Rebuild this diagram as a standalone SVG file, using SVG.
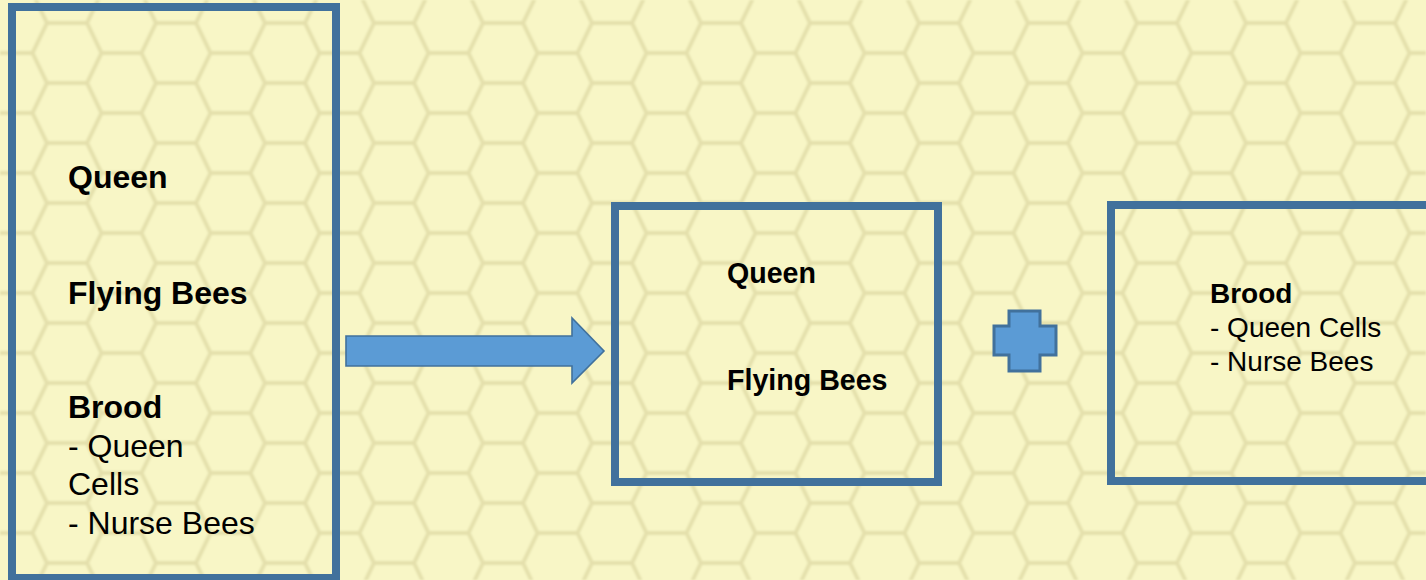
<svg xmlns="http://www.w3.org/2000/svg" width="1426" height="580" viewBox="0 0 1426 580">
  <defs>
    <!-- honeycomb tile: two hexagon columns, 109 x 60 -->
    <pattern id="honeycomb" patternUnits="userSpaceOnUse" x="67" y="23" width="109" height="60">
      <rect width="109" height="60" fill="#F8F6C6"/>
      <path d="M0,0 H20 L34.5,30 L20,60 H0 M109,0 H89 L74.5,30 L89,60 H109 M34.5,30 H74.5"
            fill="none" stroke="#E4E0AC" stroke-width="4" stroke-linejoin="round"/>
    </pattern>
    <filter id="soft" x="0" y="0" width="1" height="1">
      <feGaussianBlur stdDeviation="1.1"/>
    </filter>
    <style>
      .frame { fill: none; stroke: #41719C; stroke-width: 8; }
      .shape { fill: #5B9BD5; stroke: #41719C; stroke-linejoin: miter; }
      .t { font-family: "Liberation Sans", Arial, sans-serif; fill: #000000; }
      .b { font-weight: bold; }
      .big { font-size: 32px; }
      .mid { font-size: 28px; }
      .mid2 { font-size: 28.6px; }
    </style>
  </defs>

  <!-- background -->
  <rect width="1426" height="580" fill="#F8F6C6"/>
  <rect width="1426" height="580" fill="url(#honeycomb)" filter="url(#soft)"/>

  <!-- whole colony -->
  <g id="colony">
    <rect class="frame" x="12" y="7" width="324" height="571"/>
    <text class="t b big" x="68" y="188">Queen</text>
    <text class="t b big" x="68" y="304">Flying Bees</text>
    <text class="t b big" x="68" y="418">Brood</text>
    <text class="t big" x="68" y="456.5">- Queen</text>
    <text class="t big" x="68" y="495">Cells</text>
    <text class="t big" x="68" y="533.5">- Nurse Bees</text>
  </g>

  <!-- hive keeping the queen and flyers -->
  <g id="queen-hive">
    <rect class="frame" x="615" y="206" width="323" height="276"/>
    <text class="t b mid2" x="727" y="283">Queen</text>
    <text class="t b mid2" x="727" y="390">Flying Bees</text>
  </g>

  <!-- hive keeping the brood -->
  <g id="brood-hive">
    <rect class="frame" x="1111" y="205" width="323" height="276"/>
    <text class="t b mid" x="1210" y="303">Brood</text>
    <text class="t mid" x="1210" y="337">- Queen Cells</text>
    <text class="t mid" x="1210" y="370.5">- Nurse Bees</text>
  </g>

  <!-- connectors -->
  <g id="connectors">
    <polygon id="split-arrow" class="shape" stroke-width="1.6"
             points="346,336 572,336 572,318 604,351 572,383 572,366 346,366"/>
    <polygon id="plus" class="shape" stroke-width="3"
             points="1009,311 1040,311 1040,326 1056,326 1056,355 1040,355 1040,371 1009,371 1009,355 994,355 994,326 1009,326"/>
  </g>
</svg>
